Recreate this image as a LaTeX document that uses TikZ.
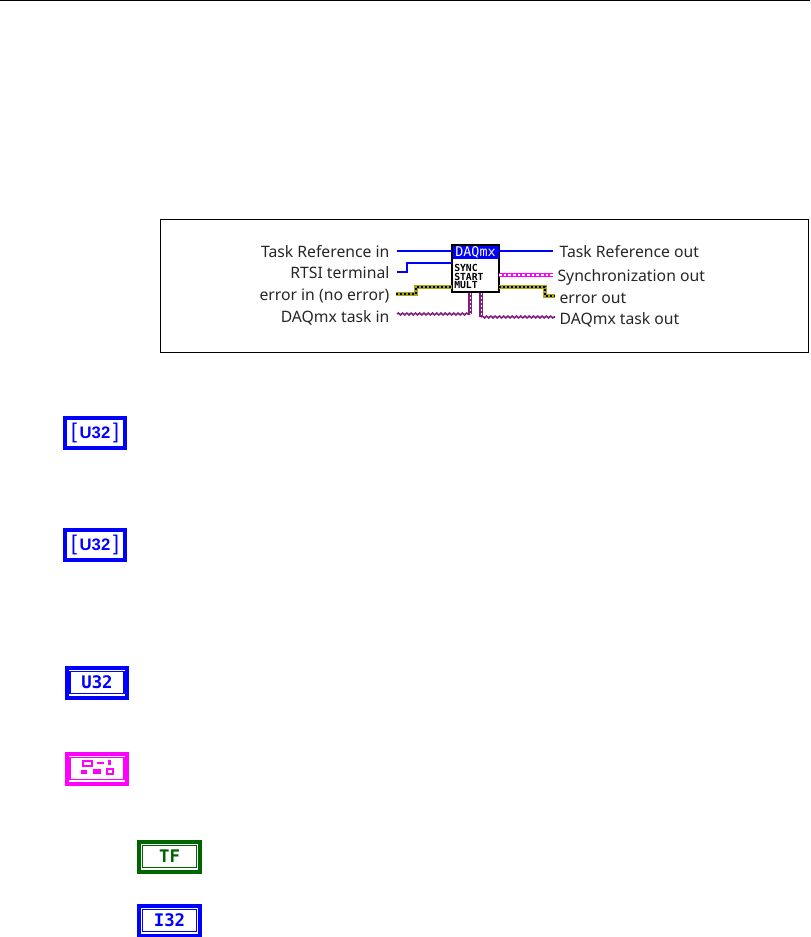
\documentclass[tikz,border=0pt]{standalone}
\usepackage{fontspec}
\setmainfont{Noto Sans}
\newfontfamily\pixelfont{DejaVu Sans Mono}
\newfontfamily\iconfont{Liberation Sans}
\usetikzlibrary{calc,decorations.pathmorphing}
\definecolor{numblue}{RGB}{0,0,255}
\definecolor{boolgreen}{RGB}{0,100,0}
\definecolor{clpink}{RGB}{255,0,255}
\definecolor{errgold}{RGB}{170,165,20}
\definecolor{taskpurple}{RGB}{128,30,128}
\tikzset{
  lbl/.style={font=\fontsize{11.8}{14}\selectfont, text=black!85, inner ysep=0pt, inner xsep=2.5pt, text height=9pt, text depth=2.5pt},
  lblin/.style={lbl, anchor=east},
  lblout/.style={lbl, anchor=west},
  numwire/.style={numblue, line width=1.8pt},
  numthin/.style={numblue, line width=1pt},
  syncwire/.style={clpink, line width=3pt, postaction={draw=white, line width=0.8pt, dash pattern=on 2pt off 1.5pt}},
  errwire/.style={errgold, line width=3.4pt, line join=miter, postaction={draw=black, line width=1.3pt, dash pattern=on 1.5pt off 1.5pt}},
  taskwire/.style={taskpurple, line width=1.2pt, decorate, decoration={snake, segment length=3.2pt, amplitude=0.7pt}},
  taskdrop/.style={taskpurple, line width=2.6pt, postaction={draw=white, line width=0.7pt, dash pattern=on 1.5pt off 1.5pt}},
  arricon/.style={draw=numblue, line width=3pt, fill=white, minimum width=45.5pt, minimum height=22.5pt, inner sep=0pt, text=numblue, font=\iconfont\bfseries\fontsize{12.5}{12}\selectfont},
}
\begin{document}
\begin{tikzpicture}[x=0.75pt,y=-0.75pt]
\useasboundingbox (0,0) rectangle (810,937);
% Page rule
\draw[black, line width=0.75pt] (0,0.5) -- (810,0.5);

% Connector pane frame
\draw[black, line width=0.75pt] (160.5,219.5) rectangle (808.5,352.5);

% VI icon
\node[draw=black, line width=1.5pt, fill=white, minimum width=35pt, minimum height=35pt, inner sep=0pt] (vi) at (475.5,268.5) {};
\fill[numblue] (452.5,246) rectangle (498.5,259);
\node[text=white, inner sep=0pt, font=\pixelfont\fontsize{10}{10}\selectfont] (vihead) at (475.5,252) {DAQmx};
\node[anchor=west, align=left, inner sep=0pt, font=\pixelfont\bfseries\fontsize{7.3}{6.7}\selectfont] (vitext) at (454,276.5) {SYNC\\START\\MULT};

% Terminals on the icon
\coordinate (pTaskIn) at (452,251);
\coordinate (pRtsi) at (452,263);
\coordinate (pErrIn) at (452,287);
\coordinate (pDaqIn) at (470,293);
\coordinate (pTaskOut) at (499,251);
\coordinate (pSync) at (499,275);
\coordinate (pErrOut) at (499,287);
\coordinate (pDaqOut) at (481,293);

% Left labels
\node[lblin] (taskin) at (393,253) {Task Reference in};
\node[lblin] (rtsi) at (393,274.5) {RTSI terminal};
\node[lblin] (errin) at (393,296) {error in (no error)};
\node[lblin] (daqin) at (393,318) {DAQmx task in};

% Right labels
\node[lblout] (taskout) at (556,253) {Task Reference out};
\node[lblout] (syncout) at (554,277) {Synchronization out};
\node[lblout] (errout) at (556,299) {error out};
\node[lblout] (daqout) at (556,320) {DAQmx task out};

% Wires
\draw[numwire] (397,251) -- (pTaskIn);
\draw[numwire] (pTaskOut) -- (553,251);
\draw[numthin] (397,272) -- (407,272) -- (407,263) -- (pRtsi);
\draw[syncwire] (pSync) -- (553,275);
\draw[errwire] (396,294) -- (416,294) -- (416,287) -- (pErrIn);
\draw[errwire] (pErrOut) -- (545,287) -- (545,296) -- (555,296);
\draw[taskwire] (397,314) -- (470,314);
\draw[taskdrop] (pDaqIn) -- (470,314);
\draw[taskdrop] (pDaqOut) -- (481,317);
\draw[taskwire] (481,317) -- (555,317);

% Array icons
\foreach \y/\name in {432.5/arrone, 544.5/arrtwo}
  \node[arricon] (\name) at (95,\y) {{\normalfont\iconfont\fontsize{16}{16}\selectfont[}\,U32\,{\normalfont\iconfont\fontsize{16}{16}\selectfont]}};

% Scalar icons
\foreach \x/\y/\c/\t/\name in {97/682.5/numblue/U32/scalu, 169.5/856.5/boolgreen/TF/scaltf, 169.5/920.5/numblue/I32/scali}{
  \node[draw=\c, line width=3pt, fill=white, minimum width=45.5pt, minimum height=22.5pt, inner sep=0pt, text=\c, font=\pixelfont\bfseries\fontsize{13}{13}\selectfont] (\name) at (\x,\y) {\t};
  \draw[\c, line width=0.9pt] (\x-27,\y-11) rectangle (\x+27,\y+11);
}

% Cluster icon
\node[draw=clpink, line width=3pt, fill=white, minimum width=45.5pt, minimum height=22.5pt, inner sep=0pt] (scalcl) at (97,768.5) {};
\draw[clpink, line width=0.9pt] (70,757.5) rectangle (124,779.5);
\draw[clpink, line width=1pt] (83,761) rectangle (92,766);
\fill[clpink] (97,762) rectangle (104,764);
\fill[clpink] (108,759.5) rectangle (111,765);
\fill[clpink] (81,769.5) rectangle (87,774);
\fill[clpink] (93,768.5) rectangle (101,774);
\draw[clpink, line width=1pt] (107,769) rectangle (113,774);
\end{tikzpicture}
\end{document}
